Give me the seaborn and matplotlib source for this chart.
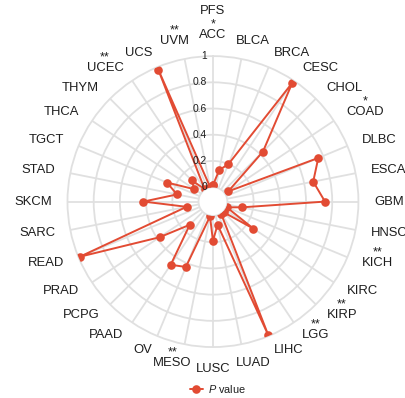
import numpy as np
import pandas as pd
import matplotlib
matplotlib.use("Agg")
import matplotlib.pyplot as plt
import seaborn as sns
from matplotlib.lines import Line2D

# Progression-free survival P values per TCGA cancer type
cancers = ["ACC", "BLCA", "BRCA", "CESC", "CHOL", "COAD", "DLBC", "ESCA",
           "GBM", "HNSC", "KICH", "KIRC", "KIRP", "LGG", "LIHC", "LUAD",
           "LUSC", "MESO", "OV", "PAAD", "PCPG", "PRAD", "READ", "SARC",
           "SKCM", "STAD", "TGCT", "THCA", "THYM", "UCEC", "UCS", "UVM"]
p_values = [0.015, 0.135, 0.20, 0.98, 0.43, 0.03, 0.76, 0.67,
            0.745, 0.115, 0.004, 0.26, 0.004, 0.003, 0.99, 0.07,
            0.19, 0.005, 0.43, 0.47, 0.14, 0.38, 0.99, 0.095,
            0.42, 0.17, 0.27, 0.06, 0.12, 0.005, 0.98, 0.005]
significance = {"ACC": "*", "COAD": "*", "KICH": "**", "KIRP": "**",
                "LGG": "**", "MESO": "**", "UCEC": "**", "UVM": "**"}
r_ticks = [0, 0.2, 0.4, 0.6, 0.8, 1]
r_tick_labels = ["0", "0.2", "0.4", "0.6", "0.8", "1"]
title = "PFS"
series_name = r"$P$ value"

RED = "#E24B33"
GRID = "#E0E0E0"
TEXT = "#1E1E1E"
DPI = 100

sns.set_theme(style="white")
plt.rcParams["font.family"] = ["Liberation Sans", "DejaVu Sans"]
plt.rcParams["mathtext.fontset"] = "custom"
plt.rcParams["mathtext.it"] = "Liberation Sans:italic"
plt.rcParams["mathtext.rm"] = "Liberation Sans"

fig = plt.figure(figsize=(4.06, 3.98), dpi=DPI)
fig.patch.set_facecolor("white")
ax = fig.add_axes([0.166, 0.128, 0.717, 0.731], projection="polar")

n = len(cancers)
theta = np.arange(n) * 2 * np.pi / n
df = pd.DataFrame({
    "theta": np.append(theta, 2 * np.pi),
    "p": np.append(p_values, p_values[0]),
})

sns.lineplot(data=df, x="theta", y="p", ax=ax, sort=False, estimator=None,
             color=RED, linewidth=1.4, marker="o", markersize=6.2,
             markeredgewidth=0, legend=False, zorder=5)

ax.set_theta_zero_location("N")
ax.set_theta_direction(-1)
ax.set_ylim(0, 1)
ax.set_rorigin(-0.11)
ax.set_xticks(theta)
ax.set_xticklabels([])
ax.set_yticks(r_ticks[1:-1])
ax.set_yticklabels([])
ax.set_xlabel("")
ax.set_ylabel("")
ax.tick_params(length=0)
ax.grid(True, color=GRID, linewidth=1.3)
for key in ("polar", "inner"):
    if key in ax.spines:
        ax.spines[key].set_color(GRID)
        ax.spines[key].set_linewidth(1.3)

# radial scale labels along the top spoke
for v, lab in zip(r_ticks, r_tick_labels):
    ax.annotate(lab, xy=(0, v), xytext=(-6, 0), textcoords="offset pixels",
                ha="right", va="center", fontsize=7.4, color=TEXT,
                annotation_clip=False, zorder=6)

# category names around the rim, significance stars just above them
label_r = 1.118
labels = []
for ang, name in zip(theta, cancers):
    t = ax.annotate(name, xy=(ang, label_r), xytext=(0, 0),
                    textcoords="offset pixels", ha="center", va="center",
                    fontsize=9.4, color=TEXT, annotation_clip=False)
    labels.append((ang, name, t))

fig.canvas.draw()
renderer = fig.canvas.get_renderer()
for ang, name, t in labels:
    bb = t.get_window_extent(renderer)
    w, h = bb.width, bb.height
    s, c = np.sin(ang), np.cos(ang)
    dx = w / 2 * np.clip(2.5 * s, -1, 1)
    fy = np.clip((abs(c) - 0.96) / 0.04, 0, 1) * np.sign(c)
    dy = h / 2 * fy
    t.xyann = (dx, dy)
    if name in significance:
        ax.annotate(significance[name], xy=(ang, label_r),
                    xytext=(dx, dy + h / 2 + 1.5), textcoords="offset pixels",
                    ha="center", va="baseline", fontsize=9.0, color=TEXT,
                    annotation_clip=False)

fig.text(213 / 406, 1 - 11.5 / 398, title, ha="center", va="center",
         fontsize=9.4, color=TEXT)

handle = Line2D([], [], color=RED, linewidth=1.4, marker="o",
                markersize=6.2, markeredgewidth=0)
fig.legend([handle], [series_name], loc="center",
           bbox_to_anchor=(0.537, 0.023), frameon=False, fontsize=7.8,
           handlelength=1.2, handletextpad=0.5, labelcolor=TEXT)

fig.savefig("out.png", dpi=DPI, facecolor="white")
